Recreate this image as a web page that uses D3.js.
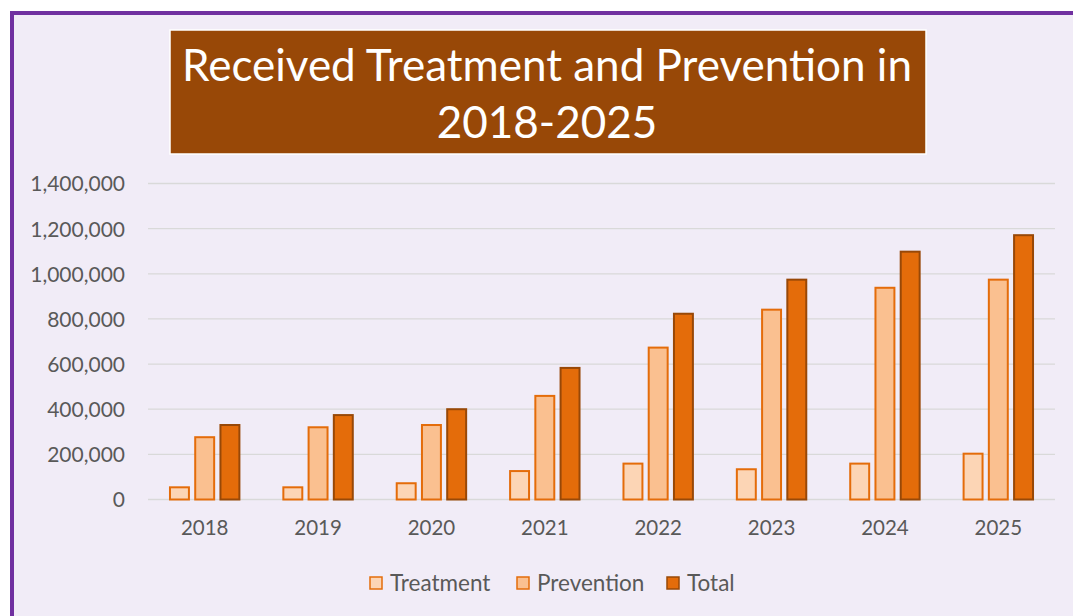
<!DOCTYPE html>
<html><head><meta charset="utf-8">
<script src="https://cdn.jsdelivr.net/npm/d3@7"></script>
<style>html,body{margin:0;padding:0;background:#fff;}svg{display:block;}</style>
</head><body>
<script>
const years = ["2018","2019","2020","2021","2022","2023","2024","2025"];
const seriesNames = ["Treatment","Prevention","Total"];
const treatment = [54000, 54000, 72000, 126000, 159000, 134000, 159000, 203000];
const prevention = [276000, 320000, 330000, 459000, 673000, 841000, 938000, 974000];
const total = [330000, 374000, 400000, 583000, 823000, 974000, 1098000, 1171000];
const yTicks = [0, 200000, 400000, 600000, 800000, 1000000, 1200000, 1400000];
const titleLines = ["Received Treatment and Prevention in", "2018-2025"];

const fills = ["#FCD5B5", "#FAC090", "#E46C0A"];
const strokes = ["#E46C0A", "#E46C0A", "#984807"];
const values = [treatment, prevention, total];

const W = 1073, H = 616;
const svg = d3.select("body").append("svg").attr("width", W).attr("height", H);
svg.append("rect").attr("x",0).attr("y",0).attr("width",W).attr("height",H).attr("fill","#fff");
svg.append("rect").attr("x",12).attr("y",13).attr("width",W+20).attr("height",H+20)
  .attr("fill","#F1ECF7").attr("stroke","#7030A0").attr("stroke-width",4);

// title box
svg.append("rect").attr("x",170).attr("y",30).attr("width",756).attr("height",124)
  .attr("fill","#984807").attr("stroke","#ffffff").attr("stroke-width",1.5);
const tt = svg.append("text").attr("fill","#fff").attr("font-family","Lato, sans-serif")
  .attr("font-size",44).attr("text-anchor","middle");
tt.append("tspan").attr("x",547).attr("y",81).text(titleLines[0]);
tt.append("tspan").attr("x",547).attr("y",138).text(titleLines[1]);

const x0 = 148, x1 = 1055, yBase = 499.5, yTop = 183.5;
const y = d3.scaleLinear().domain([0,1400000]).range([yBase, yTop]);
const xb = d3.scaleBand().domain(years).range([x0,x1]).paddingInner(0.37).paddingOuter(0.185);
const xs = d3.scaleBand().domain(seriesNames).range([0, xb.bandwidth()]).paddingInner(0.17);

svg.append("g").selectAll("line").data(yTicks).join("line")
  .attr("x1",x0).attr("x2",x1).attr("y1",d=>y(d)).attr("y2",d=>y(d))
  .attr("stroke","#D9D9D9").attr("stroke-width",1.3);

const yAxis = d3.axisLeft(y).tickValues(yTicks).tickFormat(d3.format(",")).tickSize(0).tickPadding(0);
const gy = svg.append("g").attr("transform","translate(125,0)").call(yAxis);
gy.select(".domain").remove();
gy.selectAll("text").attr("font-family","Lato, sans-serif").attr("font-size",21).attr("fill","#595959").attr("dy","0.35em");

const xAxis = d3.axisBottom(xb).tickSize(0).tickPadding(0);
const gx = svg.append("g").attr("transform","translate(0,521)").call(xAxis);
gx.select(".domain").remove();
gx.selectAll("text").attr("font-family","Lato, sans-serif").attr("font-size",20.5).attr("fill","#595959").attr("dy","0.7em");

seriesNames.forEach((s,i)=>{
  svg.append("g").selectAll("rect").data(years).join("rect")
    .attr("x",d=>xb(d)+xs(s)+1)
    .attr("width",xs.bandwidth()-2)
    .attr("y",(d,j)=>y(values[i][j]))
    .attr("height",(d,j)=>yBase - y(values[i][j]))
    .attr("fill",fills[i]).attr("stroke",strokes[i]).attr("stroke-width",2);
});

const legX = [369, 516, 666];
const lg = svg.append("g");
seriesNames.forEach((s,i)=>{
  lg.append("rect").attr("x",legX[i]+1).attr("y",577).attr("width",12).attr("height",12)
    .attr("fill",fills[i]).attr("stroke",strokes[i]).attr("stroke-width",1.5);
  lg.append("text").attr("x",legX[i]+21).attr("y",583).attr("dy","0.35em")
    .attr("font-family","Lato, sans-serif").attr("font-size",22.5).attr("fill","#595959").text(s);
});
</script>
</body></html>
